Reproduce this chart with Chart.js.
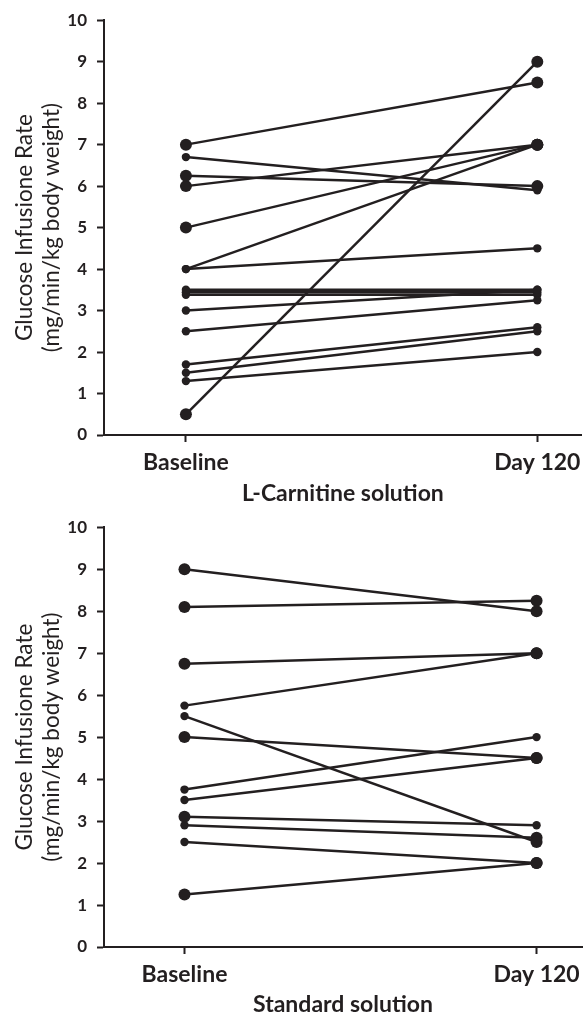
<!DOCTYPE html>
<html lang="en">
<head>
<meta charset="UTF-8"/>
<script src="https://cdn.jsdelivr.net/npm/chart.js@4.4.0/dist/chart.umd.min.js"></script>
<style>
  body { margin: 0; background: #fff; }
  .box { position: absolute; left: 0; width: 588px; height: 507px; }
</style>
</head>
<body>
<div class="box" style="top:0"><canvas id="carnitine"></canvas></div>
<div class="box" style="top:507px"><canvas id="standard"></canvas></div>
<script>
const timepoints = ['Baseline', 'Day 120'];
const yTitle = ['Glucose Infusione Rate', '(mg/min/kg body weight)'];

// L-Carnitine solution, one entry per patient
const carnBaseline = [7.0, 6.7, 6.25, 6.0, 5.0, 4.0, 4.0, 3.5, 3.44, 3.38, 3.0, 2.5, 1.7, 1.5, 1.3, 0.5];
const carnDay120   = [8.5, 5.9, 6.0, 7.0, 7.0, 7.0, 4.5, 3.5, 3.44, 3.38, 3.5, 3.25, 2.6, 2.5, 2.0, 9.0];

// Standard solution
const stdBaseline = [9.0, 8.1, 6.75, 5.75, 5.5, 5.0, 3.75, 3.5, 3.1, 2.9, 2.5, 1.25];
const stdDay120   = [8.0, 8.25, 7.0, 7.0, 2.5, 4.5, 5.0, 4.5, 2.9, 2.6, 2.0, 2.0];

// marker size flags (1 = big dot) - styling only
const carnBigBase = [1,0,1,1,1,0,0,0,0,0,0,0,0,0,0,1];
const carnBigDay  = [1,0,1,1,1,1,0,0,0,0,0,0,0,0,0,1];
const stdBigBase  = [1,1,1,0,0,1,0,0,1,0,0,1];
const stdBigDay   = [1,1,1,1,1,1,0,1,0,1,1,1];

const ink = '#231f20';

function makeDatasets(base, day, bigBase, bigDay) {
  return base.map((b, i) => ({
    data: [{x: 0, y: b}, {x: 1, y: day[i]}],
    borderColor: ink,
    backgroundColor: ink,
    borderWidth: 2.5,
    pointRadius: [bigBase[i] ? 6 : 4.2, bigDay[i] ? 6 : 4.2],
    pointBorderWidth: 0,
    pointBackgroundColor: ink
  }));
}

function makeOptions(cfg) {
  const span = cfg.x1 - cfg.x0;
  return {
    responsive: true,
    maintainAspectRatio: false,
    animation: false,
    layout: { padding: { top: cfg.padTop, right: 0, left: 0, bottom: 0 } },
    plugins: { legend: { display: false }, tooltip: { enabled: false } },
    scales: {
      x: {
        type: 'linear',
        min: -(cfg.x0 - 104) / span,
        max: 1 + (588 - cfg.x1) / span,
        afterBuildTicks: s => { s.ticks = [{value: 0}, {value: 1}]; },
        afterFit: s => { s.height = cfg.xBox; },
        grid: { drawOnChartArea: false, drawTicks: true, tickLength: 7, tickWidth: 2, tickColor: ink, color: ink },
        border: { color: ink, width: 2 },
        ticks: {
          autoSkip: false,
          maxRotation: 0,
          padding: 7,
          color: ink,
          font: { family: 'Lato', weight: 'bold', size: 23 },
          callback: v => timepoints[v]
        },
        title: {
          display: true,
          text: cfg.title,
          color: ink,
          font: { family: 'Lato', weight: 'bold', size: 23, lineHeight: '18px' },
          padding: { top: 0, bottom: cfg.titlePad }
        }
      },
      y: {
        min: 0,
        max: 10,
        afterFit: s => { s.width = 104; },
        grid: { drawOnChartArea: false, drawTicks: true, tickLength: 7, tickWidth: 2, tickColor: ink, color: ink },
        border: { color: ink, width: 2 },
        ticks: {
          stepSize: 1,
          padding: 10,
          color: ink,
          font: { family: 'Lato', weight: 'bold', size: 17 }
        },
        title: {
          display: true,
          text: yTitle,
          color: ink,
          font: { family: 'Lato', size: 22.5, lineHeight: '27px' },
          padding: { top: 11.5, bottom: 0 }
        }
      }
    }
  };
}

new Chart(document.getElementById('carnitine'), {
  type: 'line',
  data: { datasets: makeDatasets(carnBaseline, carnDay120, carnBigBase, carnBigDay) },
  options: makeOptions({ title: 'L-Carnitine solution', x0: 187, x1: 543, padTop: 16, xBox: 72, titlePad: 4.5 })
});

new Chart(document.getElementById('standard'), {
  type: 'line',
  data: { datasets: makeDatasets(stdBaseline, stdDay120, stdBigBase, stdBigDay) },
  options: makeOptions({ title: 'Standard solution', x0: 185.5, x1: 542, padTop: 20, xBox: 67, titlePad: 0 })
});
</script>
</body>
</html>
